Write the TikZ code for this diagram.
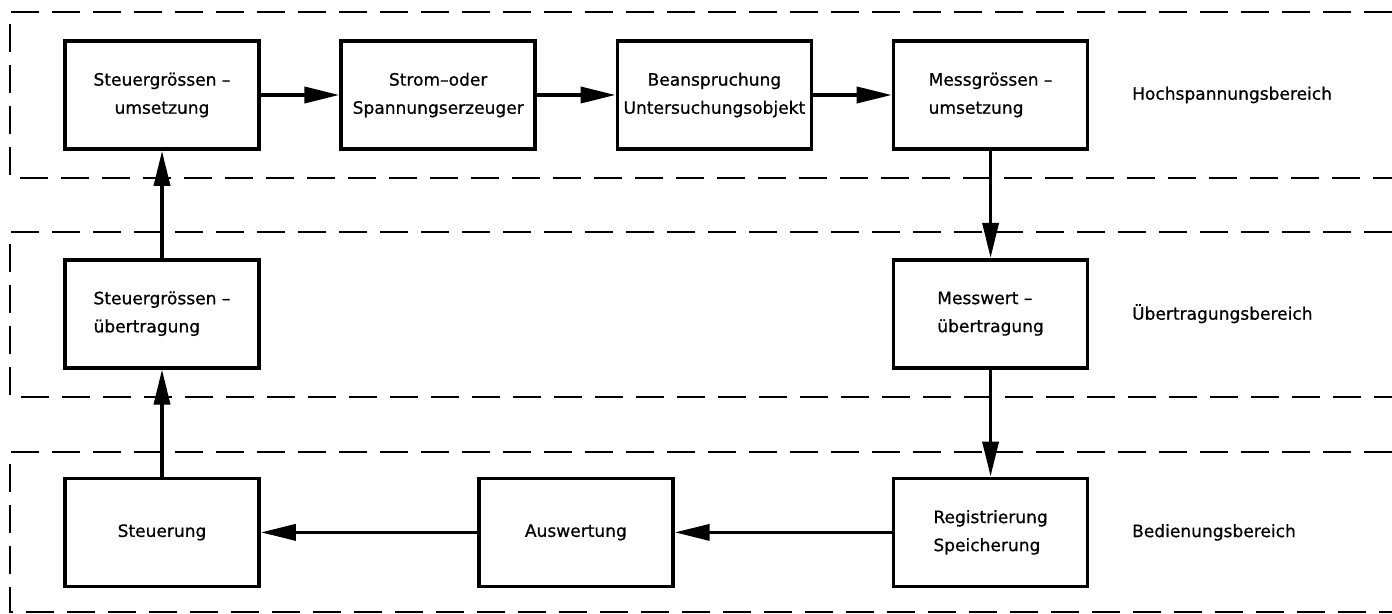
\documentclass[tikz,border=0pt]{standalone}
\usepackage{fontspec}
\setmainfont{DejaVu Sans}[FakeBold=0.7]
\usetikzlibrary{positioning,arrows.meta}

\begin{document}
\begin{tikzpicture}[line width=2.1pt, >={Triangle[length=0.7cm,width=0.32cm]},
    block/.style={draw=black, minimum width=3.88cm, minimum height=2.16cm, font=\fontsize{9.7}{16}\selectfont},
    zone/.style={line width=1.2pt, dash pattern=on 0.56cm off 0.26cm},
    area/.style={font=\fontsize{9.7}{12}\selectfont}]
    \useasboundingbox (0,0) rectangle (27.84,-12.28);

    \node[block, align=center] (sUms) at (3.24,-1.9) {Steuergrössen –\\umsetzung};
    \node[block, align=center, right=1.57cm of sUms] (erz) {Strom–oder\\Spannungserzeuger};
    \node[block, align=center, right=1.57cm of erz] (bean) {Beanspruchung\\Untersuchungsobjekt};
    \node[block, align=left, right=1.57cm of bean] (mUms) {Messgrössen –\\umsetzung};

    \node[block, align=left, below=2.14cm of sUms] (sUeb) {Steuergrössen –\\übertragung};
    \node[block, align=left, below=2.14cm of mUms] (mUeb) {Messwert –\\übertragung};

    \node[block, align=left, below=2.14cm of mUeb] (reg) {Registrierung\\Speicherung};
    \node[block, left=4.34cm of reg] (ausw) {Auswertung};
    \node[block, below=2.14cm of sUeb] (steu) {Steuerung};

    \node[area, right=0.7cm of mUms] (hvLabel) {Hochspannungsbereich};
    \node[area, right=0.7cm of mUeb] (uebLabel) {Übertragungsbereich};
    \node[area, right=0.7cm of reg] (bedLabel) {Bedienungsbereich};

    % Bereiche
    \draw[zone] (27.84,-0.24) -- (0.2,-0.24) -- (0.2,-3.56) -- (27.84,-3.56);
    \draw[zone] (27.84,-4.64) -- (0.2,-4.64) -- (0.2,-7.94) -- (27.84,-7.94);
    \draw[zone] (27.84,-9.04) -- (0.2,-9.04) -- (0.2,-12.24) -- (27.84,-12.24);

    \draw[->] (sUms) -- (erz);
    \draw[->] (erz) -- (bean);
    \draw[->] (bean) -- (mUms);
    \draw[->] (mUms) -- (mUeb);
    \draw[->] (mUeb) -- (reg);
    \draw[->] (reg) -- (ausw);
    \draw[->] (ausw) -- (steu);
    \draw[->] (steu) -- (sUeb);
    \draw[->] (sUeb) -- (sUms);

\end{tikzpicture}
\end{document}
